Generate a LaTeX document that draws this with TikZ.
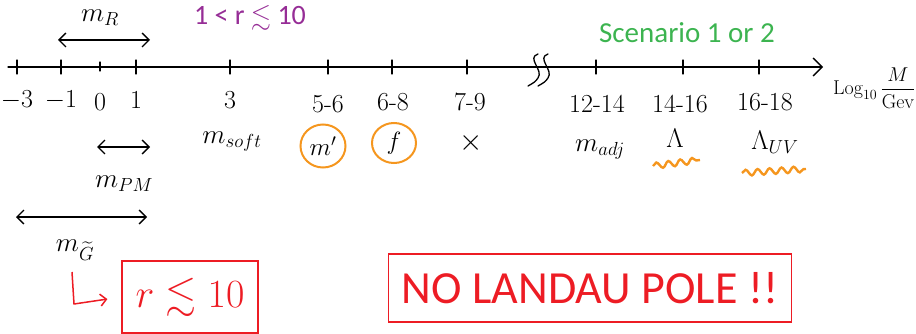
\RequirePackage{fix-cm}
\documentclass[tikz,border=0pt]{standalone}
\usepackage{amsmath,amssymb}
\usepackage{fontspec}
\newfontfamily\calibrifont{Carlito}
\usetikzlibrary{arrows.meta,decorations.pathmorphing,shapes.geometric}
\definecolor{mypurple}{RGB}{150,45,150}
\definecolor{mygreen}{RGB}{60,180,80}
\definecolor{myred}{RGB}{237,28,36}
\definecolor{myorange}{RGB}{245,150,30}
\begin{document}
\begin{tikzpicture}[x=1pt,y=-1pt,
  ink/.style={line width=1.3pt,line cap=round,line join=round},
  tickmark/.style={ink},
  barb/.style={{Straight Barb[length=7pt,width=14pt]}-{Straight Barb[length=7pt,width=14pt]}},
  lbl/.style={inner sep=0pt,font=\fontsize{27}{30}\selectfont},
  ticklbl/.style={inner sep=0pt,font=\fontsize{26}{29}\selectfont},
  typed/.style={inner sep=0pt,font=\calibrifont\fontsize{28}{32}\selectfont},
  ring/.style={draw=myorange,line width=2pt,ellipse,inner sep=0pt,font=\fontsize{25}{28}\selectfont},
  squig/.style={draw=myorange,line width=2.4pt,decorate,decoration={snake,amplitude=3pt,segment length=12pt}},
  redbox/.style={draw=myred,line width=1.5pt,inner sep=0pt}]
\useasboundingbox (0,0) rectangle (916,334);
% axis
\coordinate (axL) at (8,67);
\coordinate (axR) at (823,67);
\draw[ink,-{Straight Barb[length=9pt,width=18pt]}] (axL) -- (axR);
\foreach \x in {17,61,136,230,328,392,467,596,683,759}
  \draw[tickmark] (\x,60) -- (\x,74);
\draw[tickmark] (100,62) -- (100,71);
% break symbol
\draw[ink] (538,54) .. controls (526,58) and (544,70) .. (538,78) .. controls (535,82) .. (528,86);
\draw[ink] (548,54) .. controls (536,58) and (554,70) .. (548,78) .. controls (545,82) .. (538,86);
% axis label
\node[lbl,anchor=west,font=\fontsize{20}{23}\selectfont] (axlbl) at (833,88) {$\mathrm{Log}_{10}\,\dfrac{M}{\mathrm{Gev}}$};
% tick labels
\node[ticklbl] (lm3) at (17,100) {$-3$};
\node[ticklbl] (lm1) at (61,100) {$-1$};
\node[ticklbl] (l0) at (100,102) {$0$};
\node[ticklbl] (l1) at (136,100) {$1$};
\node[ticklbl] (l3) at (230,100) {$3$};
\node[ticklbl] (l56) at (328,104) {$5\text{-}6$};
\node[ticklbl] (l68) at (393,102) {$6\text{-}8$};
\node[ticklbl] (l79) at (470,102) {$7\text{-}9$};
\node[ticklbl] (l1214) at (597,104) {$12\text{-}14$};
\node[ticklbl] (l1416) at (680,104) {$14\text{-}16$};
\node[ticklbl] (l1618) at (765,102) {$16\text{-}18$};
% top annotations
\node[lbl] (mR) at (100,18) {$m_R$};
\coordinate (mRa) at (58,40);
\coordinate (mRb) at (150,40);
\draw[ink,barb] (mRa) -- (mRb);
\node[typed,text=mypurple] (rr) at (250,18) {1 < r {\fontsize{26}{28}\selectfont$\lesssim$} 10};
\node[typed,text=mygreen,font=\calibrifont\fontsize{29}{32}\selectfont] (scen) at (687,33) {Scenario 1 or 2};
% below-axis items
\node[lbl] (msoft) at (232,142) {$m_{soft}$};
\node[ring,minimum width=45pt,minimum height=43pt] (mp) at (323,146) {$m'$};
\node[ring,minimum width=44pt,minimum height=40pt] (ff) at (394,143) {$f$};
\node[lbl,font=\fontsize{30}{32}\selectfont] (xx) at (471,143) {$\times$};
\node[lbl] (madj) at (600,150) {$m_{adj}$};
\node[lbl] (lam) at (675,138) {$\Lambda$};
\coordinate (sqa1) at (653,166);
\coordinate (sqa2) at (700,160);
\draw[squig] (sqa1) -- (sqa2);
\node[lbl] (lamuv) at (775,142) {$\Lambda_{UV}$};
\coordinate (sqb1) at (742,173);
\coordinate (sqb2) at (806,169);
\draw[squig] (sqb1) -- (sqb2);
% left arrows
\coordinate (pma) at (97,147);
\coordinate (pmb) at (150,147);
\draw[ink,barb] (pma) -- (pmb);
\node[lbl] (mpm) at (124,184) {$m_{PM}$};
\coordinate (ga) at (16,217);
\coordinate (gb) at (147,217);
\draw[ink,barb] (ga) -- (gb);
\node[lbl] (mg) at (75,250) {$m_{\widetilde{G}}$};
% red annotations
\node[redbox,minimum width=136pt,minimum height=72pt,font=\fontsize{40}{44}\selectfont,text=myred] (rbox) at (190,297) {$r\lesssim 10$};
\coordinate (la) at (72,272);
\coordinate (lb) at (74,304);
\draw[myred,line width=1.5pt,line join=round,shorten >=14pt,-{Straight Barb[length=6pt,width=12pt]}] (la) -- (lb) -- (rbox.west);
\node[redbox,minimum width=403pt,minimum height=68pt,font=\calibrifont\fontsize{46}{50}\selectfont,text=myred] (nlp) at (590,288) {NO LANDAU POLE !!};
\end{tikzpicture}
\end{document}
